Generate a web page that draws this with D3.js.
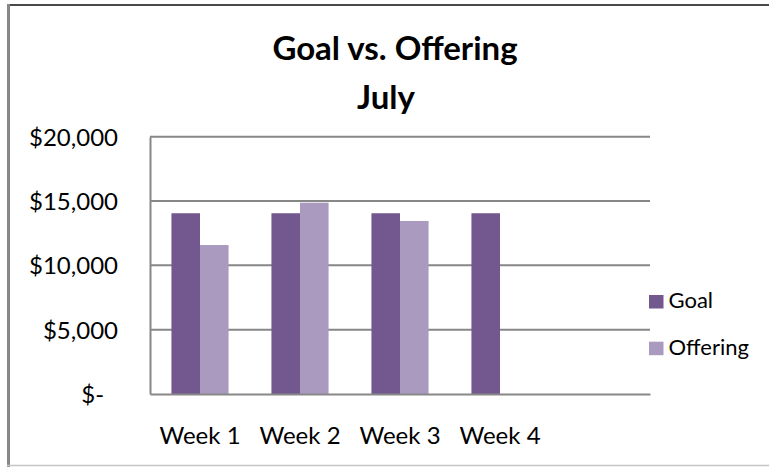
<!DOCTYPE html>
<html>
<head>
<meta charset="utf-8">
<script src="https://cdn.jsdelivr.net/npm/d3@7"></script>
<style>
  html, body { margin: 0; padding: 0; background: #fff; }
  svg { display: block; }
  text { font-family: Lato, "Open Sans", sans-serif; fill: #000; }
</style>
</head>
<body>
<svg id="chart" width="769" height="467"></svg>
<script>
// Weekly goal vs. offering, July
const categories = ["Week 1", "Week 2", "Week 3", "Week 4", ""];
const seriesNames = ["Goal", "Offering"];
const goalValues = [14050, 14050, 14050, 14050, null];
const offeringValues = [11580, 14870, 13450, null, null];
const yTicks = [0, 5000, 10000, 15000, 20000];
const titleLines = ["Goal vs. Offering", "July"];
const colors = ["#72588f", "#aa9ac0"];

const svg = d3.select("#chart");
const W = 769, H = 467;
const plot = { left: 150, right: 650, top: 136.7, bottom: 394 };

// Frame of the chart area
svg.append("line").attr("x1", 7).attr("x2", W).attr("y1", 5).attr("y2", 5)
  .attr("stroke", "#4a4a4a").attr("stroke-width", 2);
svg.append("line").attr("x1", 8.5).attr("x2", 8.5).attr("y1", 4).attr("y2", H)
  .attr("stroke", "#878787").attr("stroke-width", 3);
svg.append("line").attr("x1", 7).attr("x2", W).attr("y1", 465.5).attr("y2", 465.5)
  .attr("stroke", "#c4c4c4").attr("stroke-width", 1.5);

// Title
const titleX = [395, 386];
const titleY = [59.5, 108.5];
svg.selectAll("text.title").data(titleLines).join("text")
  .attr("class", "title")
  .attr("x", (d, i) => titleX[i])
  .attr("y", (d, i) => titleY[i])
  .attr("text-anchor", "middle")
  .style("font-weight", "bold")
  .style("font-size", "33px")
  .text(d => d);

// Scales
const x0 = d3.scaleBand().domain(categories).range([plot.left, plot.right]).paddingInner(0).paddingOuter(0);
const x1 = d3.scaleBand().domain(seriesNames).range([0, x0.bandwidth()]).paddingInner(0).paddingOuter(0.75);
const y = d3.scaleLinear().domain([0, 20000]).range([plot.bottom, plot.top]);

// Gridlines
svg.append("g").selectAll("line").data(yTicks.filter(v => v > 0)).join("line")
  .attr("x1", plot.left).attr("x2", plot.right)
  .attr("y1", d => y(d)).attr("y2", d => y(d))
  .attr("stroke", "#878787").attr("stroke-width", 2);

// Bars
const rows = categories.map((c, i) => ({ cat: c, values: [goalValues[i], offeringValues[i]] }));
const groups = svg.append("g").selectAll("g").data(rows).join("g")
  .attr("transform", d => `translate(${x0(d.cat)},0)`);
groups.selectAll("rect")
  .data(d => d.values.map((v, j) => ({ name: seriesNames[j], v, j })).filter(e => e.v != null))
  .join("rect")
  .attr("x", d => x1(d.name))
  .attr("width", x1.bandwidth())
  .attr("y", d => y(d.v))
  .attr("height", d => y(0) - y(d.v))
  .attr("fill", d => colors[d.j]);

// Y axis (accounting style: zero shown as a dash, padded on the right)
const fmt = v => v === 0 ? "$-\u2007" : "$" + d3.format(",")(v);
const yAxis = d3.axisLeft(y).tickValues(yTicks).tickFormat(fmt).tickSize(0).tickPadding(32);
const gy = svg.append("g").attr("transform", `translate(${plot.left},0)`).call(yAxis);
gy.select(".domain").attr("stroke", "#878787").attr("stroke-width", 2);
gy.selectAll("text").style("font-size", "24px").attr("dy", "0.36em").attr("font-family", null);

// X axis
const xAxis = d3.axisBottom(x0).tickSize(0).tickPadding(33);
const gx = svg.append("g").attr("transform", `translate(0,${plot.bottom})`).call(xAxis);
gx.select(".domain").attr("stroke", "#878787").attr("stroke-width", 2);
gx.selectAll("text").style("font-size", "24px").attr("dy", "0.71em").attr("font-family", null);

// Legend
const legend = svg.append("g").selectAll("g").data(seriesNames).join("g")
  .attr("transform", (d, i) => `translate(649,${295 + i * 46.7})`);
legend.append("rect").attr("width", 14.5).attr("height", 13.5).attr("fill", (d, i) => colors[i]);
legend.append("text").attr("x", 19.5).attr("y", 13.3).style("font-size", "22px").text(d => d);
</script>
</body>
</html>
